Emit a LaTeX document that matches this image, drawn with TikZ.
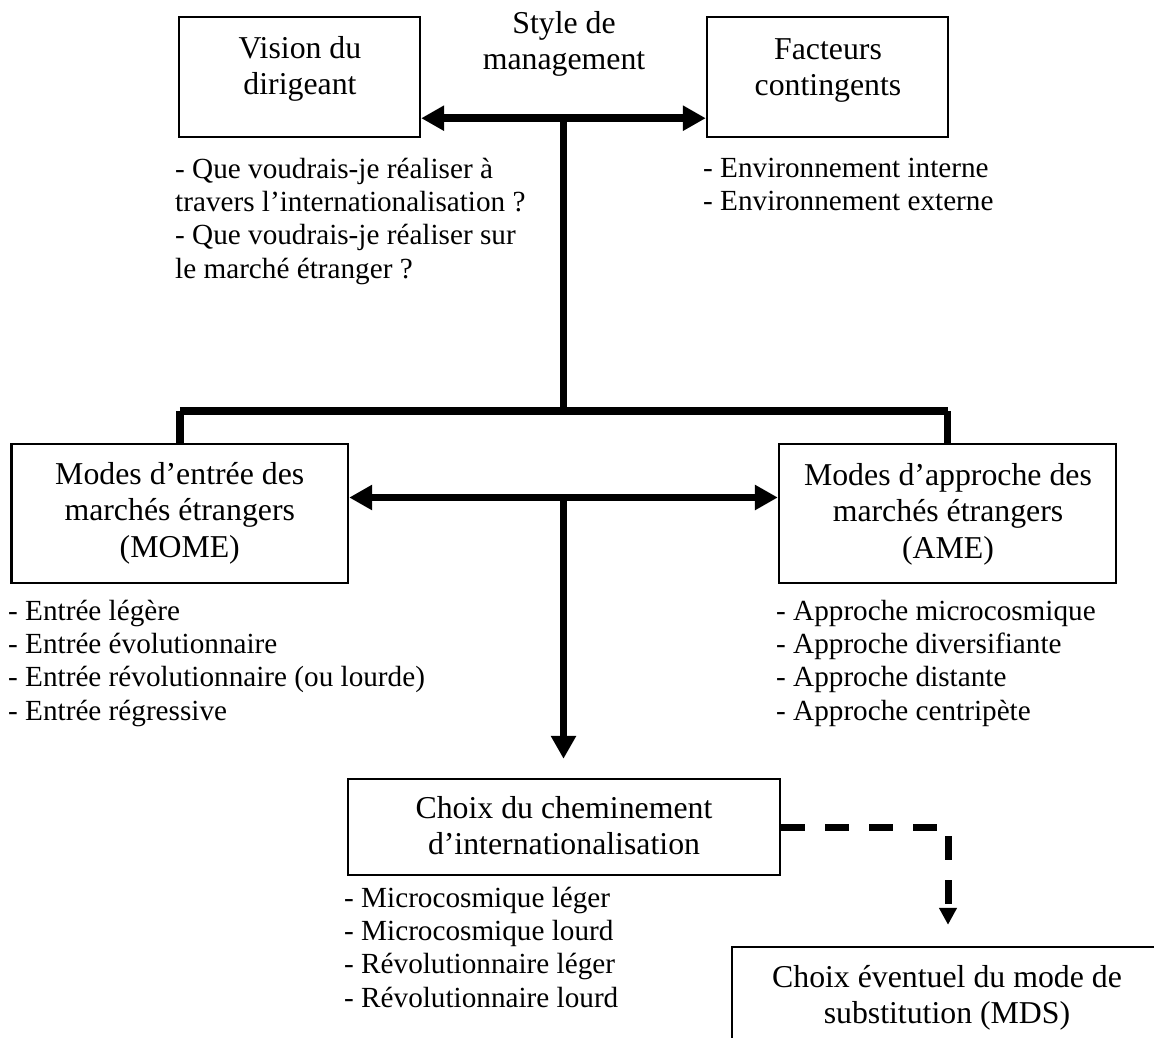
\documentclass[tikz,border=0pt]{standalone}
\usepackage{fontspec}
\setmainfont{Liberation Serif}
\usetikzlibrary{arrows.meta,calc}

\newcommand\boxfont{\fontsize{31.8}{36.7}\selectfont}
\newcommand\listfont{\fontsize{29.2}{33.4}\selectfont}

\tikzset{
  frame/.style={draw=black, line width=2.4pt, inner sep=0pt},
  boxtext/.style={font=\boxfont, align=center, anchor=north, inner sep=0pt},
  listtext/.style={font=\listfont, align=left, anchor=north west, inner sep=0pt},
  link/.style={draw=black, line width=7.8pt},
  bigtip/.style={-{Triangle[length=23pt,width=24pt]}},
  bothtips/.style={{Triangle[length=23pt,width=24pt]}-{Triangle[length=23pt,width=24pt]}},
  dashlink/.style={draw=black, line width=7pt, dash pattern=on 24pt off 20pt,
    -{Triangle[length=17pt,width=17pt]}}
}

\begin{document}
\begin{tikzpicture}[x=1pt, y=-1pt]
\useasboundingbox (0,0) rectangle (1154,1038);
\clip (0,0) rectangle (1154,1038);

% boxes
\node[frame, minimum width=241pt, minimum height=120pt] (vision) at (299.5,77) {};
\node[frame, minimum width=241pt, minimum height=120pt] (facteurs) at (827.5,77) {};
\node[frame, minimum width=336.5pt, minimum height=139pt] (mome) at (179.75,513.5) {};
\node[frame, minimum width=337pt, minimum height=139pt] (ame) at (947.5,513.5) {};
\node[frame, minimum width=432pt, minimum height=96pt] (choix) at (564,827) {};
\node[frame, minimum width=430pt, minimum height=153pt] (mds) at (947,1023.5) {};

% box captions
\node[boxtext] (style) at (564,7.3) {\strut Style de\\\strut management};
\node[boxtext] (vision-t) at ($(vision.north)+(0.5,16.5)$) {\strut Vision du\\\strut dirigeant};
\node[boxtext] (facteurs-t) at ($(facteurs.north)+(0.5,17.5)$) {\strut Facteurs\\\strut contingents};
\node[boxtext] (mome-t) at ($(mome.north)+(0,15.5)$) {\strut Modes d’entrée des\\\strut marchés étrangers\\\strut (MOME)};
\node[boxtext] (ame-t) at ($(ame.north)+(0.5,16.5)$) {\strut Modes d’approche des\\\strut marchés étrangers\\\strut (AME)};
\node[boxtext] (choix-t) at ($(choix.north)+(0,14.5)$) {\strut Choix du cheminement\\\strut d’internationalisation};
\node[boxtext] (mds-t) at ($(mds.north)+(0,15.5)$) {\strut Choix éventuel du mode de\\\strut substitution (MDS)};

% bullet lists
\node[listtext] (vision-l) at (175,154.6) {\strut - Que voudrais-je réaliser à\\\strut travers l’internationalisation ?\\\strut - Que voudrais-je réaliser sur\\\strut le marché étranger ?};
\node[listtext] (facteurs-l) at (703,153.6) {\strut - Environnement interne\\\strut - Environnement externe};
\node[listtext] (mome-l) at (8,596.6) {\strut - Entrée légère\\\strut - Entrée évolutionnaire\\\strut - Entrée révolutionnaire (ou lourde)\\\strut - Entrée régressive};
\node[listtext] (ame-l) at (776,596.6) {\strut - Approche microcosmique\\\strut - Approche diversifiante\\\strut - Approche distante\\\strut - Approche centripète};
\node[listtext] (choix-l) at (344,883.6) {\strut - Microcosmique léger\\\strut - Microcosmique lourd\\\strut - Révolutionnaire léger\\\strut - Révolutionnaire lourd};

% top double arrow and stem
\coordinate (vA) at ($(vision.south east)+(0,-20)$);
\coordinate (fA) at ($(facteurs.south west)+(0,-20)$);
\coordinate (hub) at ($(vA)!0.5!(fA)$);
\draw[link, bothtips] (vA) -- (fA);

% distribution bar
\coordinate (barL) at ($(mome.north)+(0,-32)$);
\coordinate (barR) at (barL -| ame.north);
\draw[link] (hub) -- (hub |- barL);
\draw[link] (barL) -- (barR);
\draw[link] (barL) -- (mome.north);
\draw[link] (barR) -- (ame.north);

% middle double arrow and descent
\coordinate (mA) at ($(mome.east)+(0,-16)$);
\coordinate (aA) at ($(ame.west)+(0,-16)$);
\coordinate (hub2) at ($(mA)!0.5!(aA)$);
\coordinate (ctip) at ($(choix.north)+(0,-19)$);
\draw[link, bothtips] (mA) -- (aA);
\draw[link, bigtip] (hub2) -- (hub2 |- ctip);

% optional substitution
\coordinate (mtip) at ($(mds.north)+(1,-21)$);
\draw[dashlink] (choix.east) -| (mtip);
\end{tikzpicture}
\end{document}
